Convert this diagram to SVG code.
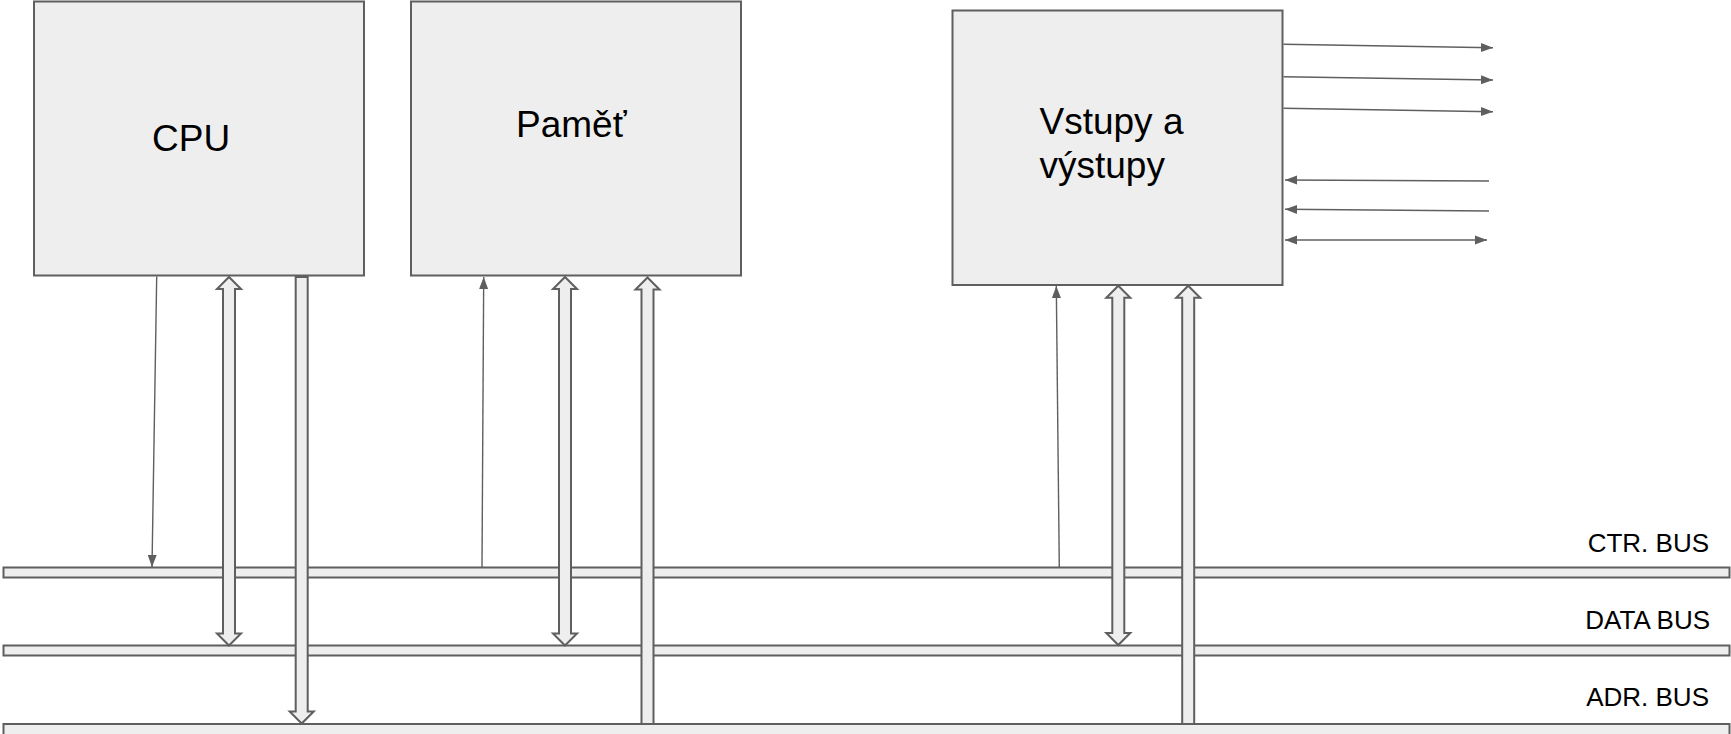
<svg xmlns="http://www.w3.org/2000/svg" width="1731" height="734" viewBox="0 0 1731 734">
<style>
.box{fill:#eeeeee;stroke:#5f5f5f;stroke-width:2}
.bus{fill:#eeeeee;stroke:#5f5f5f;stroke-width:2}
.fat{fill:#eeeeee;stroke:#5f5f5f;stroke-width:2;stroke-linejoin:miter}
.thin{fill:none;stroke:#5f5f5f;stroke-width:1.4}
.lbl{font-family:"Liberation Sans",Arial,sans-serif;font-size:37px;fill:#000}
.buslbl{font-family:"Liberation Sans",Arial,sans-serif;font-size:26px;fill:#000;text-anchor:end}
</style>
<defs>
<marker id="ah" markerUnits="userSpaceOnUse" markerWidth="12" markerHeight="10" refX="12" refY="5" orient="auto-start-reverse" viewBox="0 0 12 10">
<path d="M0,0.5 L12,5 L0,9.5 z" fill="#5f5f5f"/>
</marker>
</defs>
<rect width="1731" height="734" fill="#ffffff"/>
<g id="buses">
<rect id="ctr-bus" class="bus" x="3.5" y="567.5" width="1726" height="10"/>
<rect id="data-bus" class="bus" x="3.5" y="645.5" width="1726" height="10"/>
<rect id="adr-bus" class="bus" x="3.5" y="724" width="1726" height="14"/>
<text class="buslbl" x="1709" y="551.5">CTR. BUS</text>
<text class="buslbl" x="1710" y="628.5">DATA BUS</text>
<text class="buslbl" x="1709" y="705.5">ADR. BUS</text>
</g>
<g id="cpu">
<rect class="box" x="34" y="1.5" width="330" height="274"/>
<text class="lbl" x="152" y="151">CPU</text>
</g>
<g id="pamet">
<rect class="box" x="411" y="1.5" width="330" height="274"/>
<text class="lbl" x="516" y="137">Paměť</text>
</g>
<g id="io">
<rect class="box" x="952.5" y="10.5" width="330" height="274.5"/>
<text class="lbl" x="1039.5" y="133.5">Vstupy a</text>
<text class="lbl" x="1039.5" y="177.5">výstupy</text>
</g>
<g id="connectors">
<line class="thin" x1="156.7" y1="276.5" x2="152" y2="567" marker-end="url(#ah)"/>
<line class="thin" x1="482" y1="567" x2="483.7" y2="277" marker-end="url(#ah)"/>
<line class="thin" x1="1059.3" y1="567.5" x2="1056.3" y2="286" marker-end="url(#ah)"/>
<polygon class="fat" points="229,277 241,289 235,289 235,633.5 241,633.5 229,645.5 217,633.5 223,633.5 223,289 217,289"/>
<polygon class="fat" points="295.7,277 307.7,277 307.7,711.5 313.7,711.5 301.7,723.5 289.7,711.5 295.7,711.5"/>
<polygon class="fat" points="565,277 577,289 571,289 571,633.5 577,633.5 565,645.5 553,633.5 559,633.5 559,289 553,289"/>
<polygon class="fat" points="647.5,277.5 659.5,289.5 653.5,289.5 653.5,724 641.5,724 641.5,289.5 635.5,289.5"/>
<polygon class="fat" points="1118.3,285.7 1130.3,297.7 1124.3,297.7 1124.3,633 1130.3,633 1118.3,645 1106.3,633 1112.3,633 1112.3,297.7 1106.3,297.7"/>
<polygon class="fat" points="1188.2,285.7 1200.2,297.7 1194.2,297.7 1194.2,724 1182.2,724 1182.2,297.7 1176.2,297.7"/>
<line class="thin" x1="1283.5" y1="44.3" x2="1493" y2="47.7" marker-end="url(#ah)"/>
<line class="thin" x1="1283.5" y1="76.7" x2="1493" y2="80" marker-end="url(#ah)"/>
<line class="thin" x1="1283.5" y1="108.3" x2="1493" y2="111.7" marker-end="url(#ah)"/>
<line class="thin" x1="1489" y1="181" x2="1285" y2="180" marker-end="url(#ah)"/>
<line class="thin" x1="1489" y1="211" x2="1285" y2="209.3" marker-end="url(#ah)"/>
<line class="thin" x1="1285" y1="240" x2="1487" y2="240" marker-start="url(#ah)" marker-end="url(#ah)"/>
</g>
</svg>
